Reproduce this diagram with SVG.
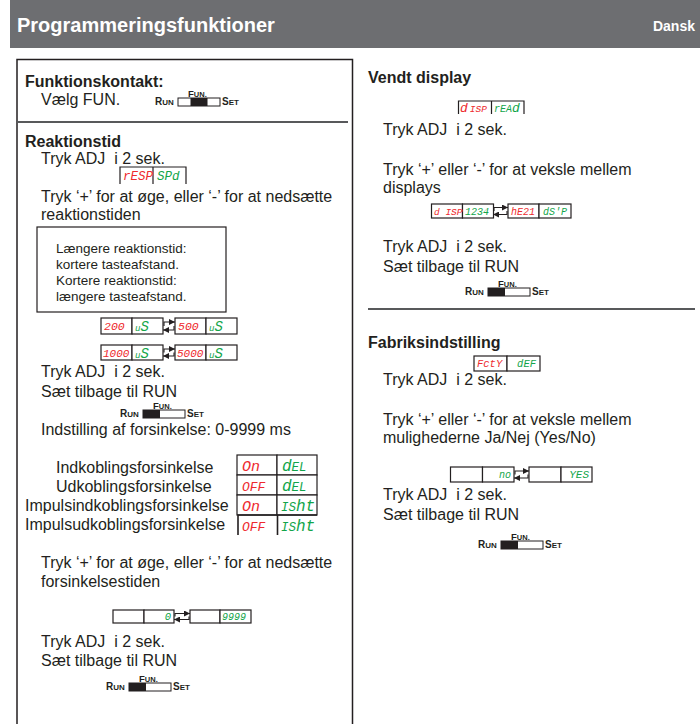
<svg xmlns="http://www.w3.org/2000/svg" xmlns:xlink="http://www.w3.org/1999/xlink" width="700" height="724" viewBox="0 0 700 724">
<style>
text{white-space:pre}
.t{font-family:"Liberation Sans",Arial,sans-serif;font-size:16px;fill:#231f20}
.h{font-weight:bold}
.n{font-size:13.5px}
.seg{font-family:"Liberation Mono","DejaVu Sans Mono",monospace;font-style:italic}
.r{fill:#ee2a2e}
.g{fill:#12a54a}
.box{fill:#fff;stroke:#231f20;stroke-width:1.2}
.ln{fill:none;stroke:#231f20;stroke-width:1.2}
.frame{fill:none;stroke:#231f20;stroke-width:1.5}
.sep{stroke:#58595b;stroke-width:2}
.sw{font-family:"Liberation Sans",Arial,sans-serif;font-weight:bold;fill:#231f20}
.ar{fill:none;stroke:#231f20;stroke-width:1.1;marker-end:url(#ah)}
</style>
<defs>
<marker id="ah" markerUnits="userSpaceOnUse" markerWidth="7" markerHeight="6" refX="6" refY="3" orient="auto">
<path d="M0,0 L6,3 L0,6 z" fill="#231f20"/>
</marker>
<g id="swRun">
<text class="sw" x="0" y="0"><tspan font-size="10">R</tspan><tspan font-size="8">UN</tspan></text>
<rect x="23" y="-7" width="42" height="8" fill="#fff" stroke="#231f20" stroke-width="1"/>
<rect x="23" y="-7" width="17" height="8" fill="#231f20"/>
<text class="sw" x="33" y="-8"><tspan font-size="9.5">F</tspan><tspan font-size="7.5">UN.</tspan></text>
<text class="sw" x="67" y="0"><tspan font-size="10">S</tspan><tspan font-size="8">ET</tspan></text>
</g>
<g id="swFun">
<text class="sw" x="0" y="0"><tspan font-size="10">R</tspan><tspan font-size="8">UN</tspan></text>
<rect x="23" y="-7" width="42" height="8" fill="#fff" stroke="#231f20" stroke-width="1"/>
<rect x="35.5" y="-7" width="17" height="8" fill="#231f20"/>
<text class="sw" x="33" y="-8"><tspan font-size="9.5">F</tspan><tspan font-size="7.5">UN.</tspan></text>
<text class="sw" x="67" y="0"><tspan font-size="10">S</tspan><tspan font-size="8">ET</tspan></text>
</g>
</defs>

<rect width="700" height="724" fill="#fff"/>

<g id="header">
<rect x="10" y="0" width="690" height="48" fill="#6d6e71"/>
<text class="t h" x="17" y="32" style="fill:#fff;font-size:20px">Programmeringsfunktioner</text>
<text class="t h" x="695" y="31" text-anchor="end" style="fill:#fff;font-size:14px">Dansk</text>
</g>

<g id="frame">
<path class="frame" d="M17,724 V59.5 H352.5 V724"/>
<line class="sep" x1="17" y1="122" x2="348" y2="122"/>
<line class="sep" x1="368" y1="309" x2="695" y2="309"/>
</g>

<g id="funktionskontakt">
<text class="t h" x="25" y="87">Funktionskontakt:</text>
<text class="t" x="41" y="105">Vælg FUN.</text>
<use xlink:href="#swFun" x="155" y="105"/>
</g>

<g id="reaktionstid">
<text class="t h" x="25" y="147">Reaktionstid</text>
<text class="t" x="41" y="164">Tryk ADJ  i 2 sek.</text>
<g id="disp-resp">
<rect x="120" y="167" width="66" height="17" fill="#fff"/>
<path class="ln" d="M120,184 V167 H186 V184 M153,167 V184"/>
<text class="seg r" x="123" y="180" font-size="12.5">rESP</text>
<text class="seg g" x="157" y="180" font-size="12.5">SPd</text>
</g>
<text class="t" x="41" y="202">Tryk ‘+’ for at øge, eller ‘-’ for at nedsætte</text>
<text class="t" x="41" y="220">reaktionstiden</text>
</g>

<g id="note">
<rect x="37" y="227" width="189" height="85" fill="#fff" stroke="#231f20" stroke-width="1.2"/>
<text class="t n" x="56" y="253">Længere reaktionstid:</text>
<text class="t n" x="56" y="269">kortere tasteafstand.</text>
<text class="t n" x="56" y="285">Kortere reaktionstid:</text>
<text class="t n" x="56" y="301">længere tasteafstand.</text>
</g>

<g id="disp-200">
<rect class="box" x="101" y="318" width="31" height="16"/>
<rect class="box" x="132" y="318" width="31" height="16"/>
<text class="seg r" x="104" y="330" font-size="11.5">200</text>
<text class="seg g" x="135" y="331"><tspan font-size="9">u</tspan><tspan font-size="14">S</tspan></text>
</g>
<g id="disp-500">
<rect class="box" x="175" y="318" width="31" height="16"/>
<rect class="box" x="206" y="318" width="31" height="16"/>
<text class="seg r" x="178" y="330" font-size="11.5">500</text>
<text class="seg g" x="209" y="331"><tspan font-size="9">u</tspan><tspan font-size="14">S</tspan></text>
</g>
<g id="disp-1000">
<rect class="box" x="101" y="345" width="31" height="15"/>
<rect class="box" x="132" y="345" width="31" height="15"/>
<text class="seg r" x="103" y="357" font-size="11">1000</text>
<text class="seg g" x="135" y="358"><tspan font-size="9">u</tspan><tspan font-size="14">S</tspan></text>
</g>
<g id="disp-5000">
<rect class="box" x="175" y="345" width="31" height="15"/>
<rect class="box" x="206" y="345" width="31" height="15"/>
<text class="seg r" x="177" y="357" font-size="11">5000</text>
<text class="seg g" x="209" y="358"><tspan font-size="9">u</tspan><tspan font-size="14">S</tspan></text>
</g>

<g id="reaktion-end">
<text class="t" x="41" y="377">Tryk ADJ  i 2 sek.</text>
<text class="t" x="41" y="397">Sæt tilbage til RUN</text>
<use xlink:href="#swRun" x="120" y="417"/>
</g>

<g id="forsinkelse">
<text class="t" x="41" y="435">Indstilling af forsinkelse: 0-9999 ms</text>
<text class="t" x="56" y="473">Indkoblingsforsinkelse</text>
<text class="t" x="56" y="492">Udkoblingsforsinkelse</text>
<text class="t" x="25" y="511">Impulsindkoblingsforsinkelse</text>
<text class="t" x="25" y="530">Impulsudkoblingsforsinkelse</text>
</g>

<g id="delay-table">
<rect class="box" x="237" y="455" width="40" height="20"/>
<rect class="box" x="277" y="455" width="40" height="20"/>
<rect class="box" x="237" y="475" width="40" height="20"/>
<rect class="box" x="277" y="475" width="40" height="20"/>
<rect class="box" x="237" y="495" width="40" height="20"/>
<rect class="box" x="277" y="495" width="40" height="20"/>
<path class="ln" d="M238,535 V515 H317 M277.5,515 V535" style="stroke-width:1.6"/>
<text class="seg r" x="242" y="471" font-size="15">On</text>
<text class="seg g" x="282" y="471"><tspan font-size="16">d</tspan><tspan font-size="12.5">EL</tspan></text>
<text class="seg r" x="242" y="491" font-size="13">OFF</text>
<text class="seg g" x="282" y="491"><tspan font-size="16">d</tspan><tspan font-size="12.5">EL</tspan></text>
<text class="seg r" x="242" y="511" font-size="15">On</text>
<text class="seg g" x="281" y="511"><tspan font-size="12.5">IS</tspan><tspan font-size="16">ht</tspan></text>
<text class="seg r" x="242" y="531" font-size="13">OFF</text>
<text class="seg g" x="281" y="531"><tspan font-size="12.5">IS</tspan><tspan font-size="16">ht</tspan></text>
</g>

<g id="forsinkelse-end">
<text class="t" x="41" y="568">Tryk ‘+’ for at øge, eller ‘-’ for at nedsætte</text>
<text class="t" x="41" y="587">forsinkelsestiden</text>
</g>
<g id="disp-0">
<rect class="box" x="113" y="610" width="31" height="13"/>
<rect class="box" x="144" y="610" width="30" height="13"/>
<text class="seg g" x="171" y="620" font-size="10.5" text-anchor="end">0</text>
</g>
<g id="disp-9999">
<rect class="box" x="190" y="610" width="30" height="13"/>
<rect class="box" x="220" y="610" width="31" height="13"/>
<text class="seg g" x="222" y="620" font-size="10">9999</text>
</g>
<g id="left-end">
<text class="t" x="41" y="647">Tryk ADJ  i 2 sek.</text>
<text class="t" x="41" y="666">Sæt tilbage til RUN</text>
<use xlink:href="#swRun" x="106" y="690"/>
</g>

<g id="vendt-display">
<text class="t h" x="368" y="83">Vendt display</text>
<g id="disp-read">
<rect x="458" y="101" width="66" height="13" fill="#fff"/>
<path class="ln" d="M458.5,114 V101 H524 V114 M491.5,101 V114"/>
<text class="seg r" x="460" y="112"><tspan font-size="13">d</tspan><tspan font-size="9.5" dx="2">ISP</tspan></text>
<text class="seg g" x="494" y="112"><tspan font-size="10">rEA</tspan><tspan font-size="13">d</tspan></text>
</g>
<text class="t" x="383" y="135">Tryk ADJ  i 2 sek.</text>
<text class="t" x="383" y="175">Tryk ‘+’ eller ‘-’ for at veksle mellem</text>
<text class="t" x="383" y="193">displays</text>
</g>
<g id="disp-1234">
<rect class="box" x="431.5" y="204" width="31" height="14"/>
<rect class="box" x="462.5" y="204" width="31" height="14"/>
<text class="seg r" x="434" y="215" font-size="9.5">d ISP</text>
<text class="seg g" x="465" y="215" font-size="10">1234</text>
</g>
<g id="disp-he21">
<rect class="box" x="508" y="204" width="31" height="14"/>
<rect class="box" x="539" y="204" width="32" height="14"/>
<text class="seg r" x="511" y="215" font-size="10">hE21</text>
<text class="seg g" x="543" y="215" font-size="10">dS'P</text>
</g>
<g id="vendt-end">
<text class="t" x="383" y="252">Tryk ADJ  i 2 sek.</text>
<text class="t" x="383" y="272">Sæt tilbage til RUN</text>
<use xlink:href="#swRun" x="465" y="295"/>
</g>

<g id="fabriksindstilling">
<text class="t h" x="368" y="348">Fabriksindstilling</text>
<g id="disp-fcty">
<rect class="box" x="474" y="356" width="33" height="15"/>
<rect class="box" x="507" y="356" width="33" height="15"/>
<text class="seg r" x="477" y="367" font-size="10.5">FctY</text>
<text class="seg g" x="536" y="367" font-size="10.5" text-anchor="end">dEF</text>
</g>
<text class="t" x="383" y="385">Tryk ADJ  i 2 sek.</text>
<text class="t" x="383" y="425">Tryk ‘+’ eller ‘-’ for at veksle mellem</text>
<text class="t" x="383" y="443">mulighederne Ja/Nej (Yes/No)</text>
</g>
<g id="disp-no">
<rect class="box" x="450.5" y="467" width="32" height="15"/>
<rect class="box" x="482.5" y="467" width="31.5" height="15"/>
<text class="seg g" x="511" y="478" font-size="10" text-anchor="end">no</text>
</g>
<g id="disp-yes">
<rect class="box" x="529" y="467" width="32" height="15"/>
<rect class="box" x="561" y="467" width="31" height="15"/>
<text class="seg g" x="589" y="478" font-size="11" text-anchor="end">YES</text>
</g>
<g id="fabrik-end">
<text class="t" x="383" y="500">Tryk ADJ  i 2 sek.</text>
<text class="t" x="383" y="520">Sæt tilbage til RUN</text>
<use xlink:href="#swRun" x="478" y="548"/>
</g>

<g id="connectors">
<path class="ar" d="M164,326 V322 H175"/>
<path class="ar" d="M174,326 V330 H163"/>
<path class="ar" d="M164,352.5 V349 H175"/>
<path class="ar" d="M174,352.5 V356 H163"/>
<path class="ar" d="M175,616.5 V613.5 H190"/>
<path class="ar" d="M189,616.5 V619.5 H174"/>
<path class="ar" d="M494,211 V207.5 H508"/>
<path class="ar" d="M507,211 V214.5 H493"/>
<path class="ar" d="M515,474.5 V471 H529"/>
<path class="ar" d="M528,474.5 V478 H514"/>
</g>
</svg>
